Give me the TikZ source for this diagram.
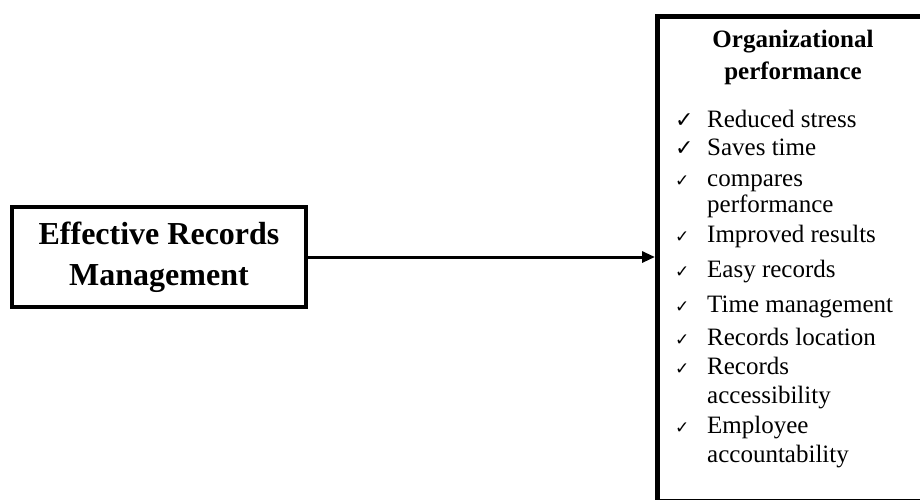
\documentclass[tikz,border=0pt]{standalone}
\usepackage{fontspec}
\setmainfont{Liberation Serif}
\newfontfamily\symfont{DejaVu Sans}
\usetikzlibrary{arrows.meta}
\begin{document}
\begin{tikzpicture}[x=1pt,y=-1pt,
  box/.style={draw=black,line width=4pt,rectangle,inner sep=0pt},
  item/.style={anchor=base west,inner sep=0pt,font=\fontsize{25}{29}\selectfont},
  bigchk/.style={anchor=base west,inner sep=0pt,font=\symfont\bfseries\fontsize{22}{22}\selectfont},
  smallchk/.style={anchor=base west,inner sep=0pt,font=\symfont\fontsize{17}{17}\selectfont},
  conn/.style={line width=3pt,-{Triangle[length=13pt,width=11pt]}}]
\useasboundingbox (0,0) rectangle (920,499);
\clip (0,0) rectangle (920,499);
% left box
\node[box,minimum width=294pt,minimum height=100pt,align=center,
      font=\bfseries\fontsize{32}{43}\selectfont] (erm) at (159,257)
      {Effective Records\\[-2pt]Management};
% right box
\node[draw=black,line width=5pt,rectangle,inner sep=0pt,anchor=north west,
      minimum width=300pt,minimum height=485pt] (op) at (655,14) {};
\draw[conn] (erm.east) -- (op.west |- erm.east);
% heading
\node[inner sep=0pt,anchor=base,font=\bfseries\fontsize{25}{30}\selectfont] (h1) at (793,47) {Organizational};
\node[inner sep=0pt,anchor=base,font=\bfseries\fontsize{25}{30}\selectfont] (h2) at (793,79) {performance};
% list
\node[bigchk] (c1) at (675,127) {✓};
\node[item] (t1) at (707,127) {Reduced stress};
\node[bigchk] (c2) at (675,155) {✓};
\node[item] (t2) at (707,155) {Saves time};
\node[smallchk] (c3) at (675,186) {✓};
\node[item] (t3) at (707,186) {compares};
\node[item] (t3b) at (707,212) {performance};
\node[smallchk] (c4) at (675,242) {✓};
\node[item] (t4) at (707,242) {Improved results};
\node[smallchk] (c5) at (675,277) {✓};
\node[item] (t5) at (707,277) {Easy records};
\node[smallchk] (c6) at (675,312) {✓};
\node[item] (t6) at (707,312) {Time management};
\node[smallchk] (c7) at (675,345) {✓};
\node[item] (t7) at (707,345) {Records location};
\node[smallchk] (c8) at (675,374) {✓};
\node[item] (t8) at (707,374) {Records};
\node[item] (t8b) at (707,403) {accessibility};
\node[smallchk] (c9) at (675,433) {✓};
\node[item] (t9) at (707,433) {Employee};
\node[item] (t9b) at (707,462) {accountability};
\end{tikzpicture}
\end{document}
